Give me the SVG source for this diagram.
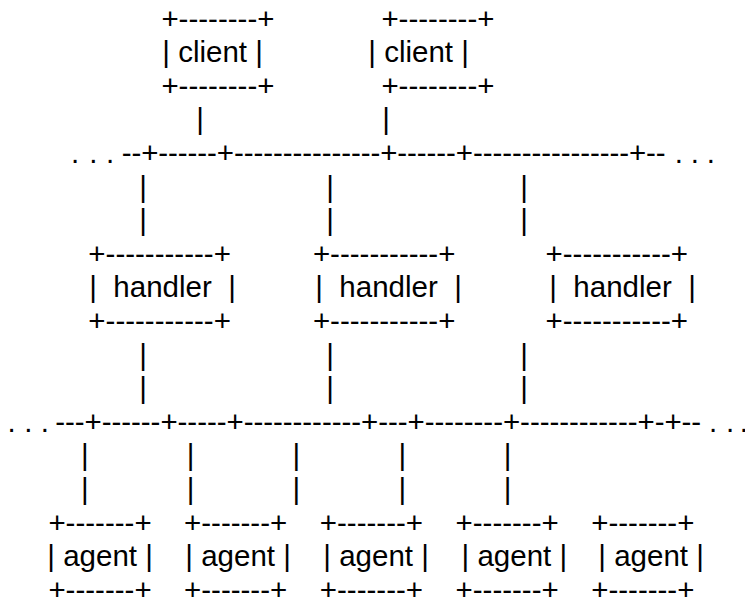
<svg xmlns="http://www.w3.org/2000/svg" width="745" height="600" viewBox="0 0 745 600">
  <style>
    text { font-family: "Liberation Sans", Arial, Helvetica, sans-serif; font-size: 29.5px; fill: #000; white-space: pre; }
  </style>
  <rect width="745" height="600" fill="#fff"/>

  <!-- clients -->
  <g id="client1">
    <text x="161.4" y="28.6">+--------+</text>
    <text x="162.3" y="62.2">| client |</text>
    <text x="161.4" y="95.8">+--------+</text>
  </g>
  <g id="client2">
    <text x="381.4" y="28.6">+--------+</text>
    <text x="368.3" y="62.2">| client |</text>
    <text x="381.4" y="95.8">+--------+</text>
  </g>

  <!-- handlers -->
  <g id="handler1">
    <text x="88.35" y="263.8">+-----------+</text>
    <text x="89.3" y="297.4">|  handler  |</text>
    <text x="88.35" y="331">+-----------+</text>
  </g>
  <g id="handler2">
    <text x="312.9" y="263.8">+-----------+</text>
    <text x="315.3" y="297.4">|  handler  |</text>
    <text x="312.9" y="331">+-----------+</text>
  </g>
  <g id="handler3">
    <text x="545.5" y="263.8">+-----------+</text>
    <text x="549.3" y="297.4">|  handler  |</text>
    <text x="545.5" y="331">+-----------+</text>
  </g>

  <!-- agents -->
  <g id="agent1">
    <text x="48.4" y="532.6">+-------+</text>
    <text x="47.3" y="566.2">| agent |</text>
    <text x="48.4" y="599.8">+-------+</text>
  </g>
  <g id="agent2">
    <text x="184" y="532.6">+-------+</text>
    <text x="185.3" y="566.2">| agent |</text>
    <text x="184" y="599.8">+-------+</text>
  </g>
  <g id="agent3">
    <text x="319.8" y="532.6">+-------+</text>
    <text x="323.3" y="566.2">| agent |</text>
    <text x="319.8" y="599.8">+-------+</text>
  </g>
  <g id="agent4">
    <text x="455.5" y="532.6">+-------+</text>
    <text x="461.6" y="566.2">| agent |</text>
    <text x="455.5" y="599.8">+-------+</text>
  </g>
  <g id="agent5">
    <text x="591.2" y="532.6">+-------+</text>
    <text x="598.3" y="566.2">| agent |</text>
    <text x="591.2" y="599.8">+-------+</text>
  </g>

  <!-- connectors: drops and the two buses -->
  <g id="connectors">
    <text x="196.15" y="129.4">|</text>
    <text x="382.15" y="129.4">|</text>

    <text x="70.9" y="163">.</text>
    <text x="89.2" y="163">.</text>
    <text x="105.9" y="163">.</text>
    <text x="121.7" y="163" textLength="544" lengthAdjust="spacing">--+------+---------------+------+----------------+--</text>
    <text x="674.85" y="163">.</text>
    <text x="690.85" y="163">.</text>
    <text x="706.85" y="163">.</text>

    <text x="139.2" y="196.6">|</text>
    <text x="326.2" y="196.6">|</text>
    <text x="520.2" y="196.6">|</text>
    <text x="139.2" y="230.2">|</text>
    <text x="326.2" y="230.2">|</text>
    <text x="520.2" y="230.2">|</text>

    <text x="139.2" y="364.6">|</text>
    <text x="326.2" y="364.6">|</text>
    <text x="520.2" y="364.6">|</text>
    <text x="139.2" y="398.2">|</text>
    <text x="326.2" y="398.2">|</text>
    <text x="520.2" y="398.2">|</text>

    <text x="7.55" y="431.8">.</text>
    <text x="24.15" y="431.8">.</text>
    <text x="40.85" y="431.8">.</text>
    <text x="55.2" y="431.8" textLength="646" lengthAdjust="spacing">---+------+-----+------------+---+--------+------------+-+--</text>
    <text x="708.9" y="431.8">.</text>
    <text x="725.9" y="431.8">.</text>
    <text x="739.85" y="431.8">.</text>

    <text x="81" y="465.4">|</text>
    <text x="186.7" y="465.4">|</text>
    <text x="292.4" y="465.4">|</text>
    <text x="398.6" y="465.4">|</text>
    <text x="503.8" y="465.4">|</text>
    <text x="81" y="499">|</text>
    <text x="186.7" y="499">|</text>
    <text x="292.4" y="499">|</text>
    <text x="398.6" y="499">|</text>
    <text x="503.8" y="499">|</text>
  </g>
</svg>
